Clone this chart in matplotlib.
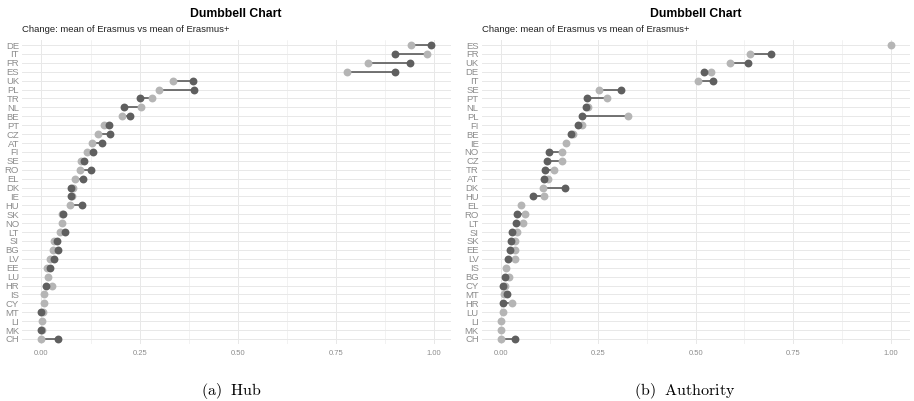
import matplotlib
matplotlib.use("Agg")
import matplotlib.pyplot as plt
import numpy as np

nan = np.nan

# hub scores, top to bottom
hub_countries = ['DE', 'IT', 'FR', 'ES', 'UK', 'PL', 'TR', 'NL', 'BE', 'PT', 'CZ', 'AT', 'FI', 'SE', 'RO', 'EL', 'DK',
                 'IE', 'HU', 'SK', 'NO', 'LT', 'SI', 'BG', 'LV', 'EE', 'LU', 'HR', 'IS', 'CY', 'MT', 'LI', 'MK', 'CH']
hub_erasmus = [0.940, 0.981, 0.832, 0.778, 0.336, 0.300, 0.281, 0.254, 0.206, 0.160, 0.145, 0.130, 0.115, 0.101,
               0.098, 0.086, 0.080, 0.079, 0.073, 0.052, 0.052, 0.048, 0.033, 0.029, 0.023, 0.015, 0.017, 0.027,
               0.006, 0.007, 0.005, 0.002, 0.001, 0.000]
hub_erasmus_plus = [0.992, 0.900, 0.939, 0.899, 0.387, 0.389, 0.250, 0.210, 0.226, 0.172, 0.175, 0.155, 0.132, 0.109,
                    0.125, 0.105, 0.076, 0.074, 0.104, 0.055, nan, 0.061, 0.039, 0.042, 0.032, 0.022, nan, 0.011,
                    nan, nan, 0.000, nan, -0.002, 0.041]

# authority scores, top to bottom
auth_countries = ['ES', 'FR', 'UK', 'DE', 'IT', 'SE', 'PT', 'NL', 'PL', 'FI', 'BE', 'IE', 'NO', 'CZ', 'TR', 'AT', 'DK',
                  'HU', 'EL', 'RO', 'LT', 'SI', 'SK', 'EE', 'LV', 'IS', 'BG', 'CY', 'MT', 'HR', 'LU', 'LI', 'MK', 'CH']
auth_erasmus = [1.000, 0.639, 0.587, 0.538, 0.505, 0.252, 0.272, 0.224, 0.326, 0.209, 0.185, 0.166, 0.157, 0.157,
                0.136, 0.121, 0.109, 0.111, 0.051, 0.062, 0.056, 0.041, 0.036, 0.036, 0.036, 0.014, 0.020, 0.011,
                0.008, 0.028, 0.004, 0.000, 0.000, 0.000]
auth_erasmus_plus = [nan, 0.692, 0.633, 0.522, 0.544, 0.307, 0.222, 0.218, 0.209, 0.199, 0.179, nan, 0.124, 0.119,
                     0.113, 0.110, 0.164, 0.082, nan, 0.041, 0.038, 0.029, 0.025, 0.024, 0.017, nan, 0.010, 0.006,
                     0.015, 0.004, nan, nan, nan, 0.037]

plt.rcParams['font.family'] = ['Liberation Sans', 'DejaVu Sans']
plt.rcParams['mathtext.fontset'] = 'cm'

W, H = 914, 401
fig = plt.figure(figsize=(W / 100, H / 100), dpi=100)

light = '#b5b5b5'
dark = '#5f5f5f'
grid = '#e8e8e8'


def panel(x0, x1, xmax, countries, a, b, caption, cap_x):
    top, bot = 39.7, 344.3
    ax = fig.add_axes([x0 / W, 1 - bot / H, (x1 - x0) / W, (bot - top) / H])
    n = len(countries)
    y = np.arange(n)
    a = np.array(a)
    b = np.array(b)
    ax.set_xlim(-0.05, xmax)
    ax.set_ylim(n - 1 + 0.6, -0.6)
    ax.set_xticks([0, 0.25, 0.5, 0.75, 1.0])
    ax.set_xticklabels(['0.00', '0.25', '0.50', '0.75', '1.00'])
    ax.set_xticks([0.125, 0.375, 0.625, 0.875], minor=True)
    ax.set_yticks(y)
    ax.set_yticklabels(countries)
    ax.grid(True, which='major', color=grid, lw=0.7, zorder=0)
    ax.grid(True, which='minor', axis='x', color=grid, lw=0.4, zorder=0)
    ax.set_axisbelow(True)
    for s in ax.spines.values():
        s.set_visible(False)
    ax.tick_params(axis='both', which='both', length=0, colors='#8c8c8c')
    ax.tick_params(axis='y', labelsize=6.8, pad=2)
    ax.tick_params(axis='x', labelsize=5.5, pad=4)
    ax.hlines(y, a, b, color='#4d4d4d', lw=1.1, zorder=2)
    ax.scatter(a, y, s=32, color=light, zorder=3, linewidths=0)
    ax.scatter(b, y, s=32, color=dark, zorder=4, linewidths=0)
    cx = (x0 + x1) / 2 / W
    fig.text(cx, 1 - 14 / H, 'Dumbbell Chart', ha='center', va='center', fontsize=8.8, fontweight='bold')
    fig.text(x0 / W, 1 - 29 / H, 'Change: mean of Erasmus vs mean of Erasmus+', ha='left', va='center',
             fontsize=6.8, color='#222222')
    fig.text(cap_x / W, 1 - 391 / H, caption, ha='center', va='center', fontsize=11.5)
    return ax


panel(21.8, 450.7, 1.042, hub_countries, hub_erasmus, hub_erasmus_plus, r'$\mathrm{(a)\ \ Hub}$', 231)
panel(481.5, 910, 1.05, auth_countries, auth_erasmus, auth_erasmus_plus, r'$\mathrm{(b)\ \ Authority}$', 685)

fig.savefig('out.png', dpi=100)
